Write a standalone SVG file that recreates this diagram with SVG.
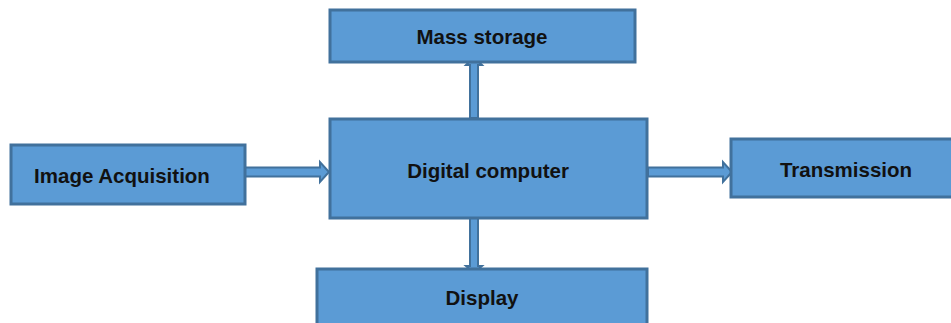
<svg xmlns="http://www.w3.org/2000/svg" width="951" height="323" viewBox="0 0 951 323">
<style>
.box{fill:#5b9bd5;stroke:#41719c;stroke-width:3}
.arr{fill:#5b9bd5;stroke:#41719c;stroke-width:2;stroke-linejoin:miter}
.t{font-family:"Liberation Sans",Arial,sans-serif;font-weight:bold;font-size:20.5px;fill:#111;text-anchor:middle}
</style>
<rect width="951" height="323" fill="#ffffff"/>
<g id="connectors">
<path class="arr" d="M245,167.5 H320 V162 L329,172 L320,182 V176.5 H245 Z"/>
<path class="arr" d="M648,167.5 H723 V162 L732,172 L723,182 V176.5 H648 Z"/>
<path class="arr" d="M470,118 V65 H466 L474,57 L482,65 H478 V118 Z"/>
<path class="arr" d="M470,218 V266 H466 L474,273 L482,266 H478 V218 Z"/>
</g>
<g id="mass-storage">
<rect class="box" x="330" y="10" width="305" height="52"/>
<text class="t" x="482" y="44">Mass storage</text>
</g>
<g id="image-acquisition">
<rect class="box" x="11" y="145" width="234" height="59"/>
<text class="t" x="122" y="183">Image Acquisition</text>
</g>
<g id="digital-computer">
<rect class="box" x="330" y="119" width="317" height="99"/>
<text class="t" x="488" y="178">Digital computer</text>
</g>
<g id="transmission">
<rect class="box" x="731" y="139" width="225" height="58"/>
<text class="t" x="846" y="177">Transmission</text>
</g>
<g id="display">
<rect class="box" x="317" y="269" width="330" height="60"/>
<text class="t" x="482" y="305">Display</text>
</g>
</svg>
